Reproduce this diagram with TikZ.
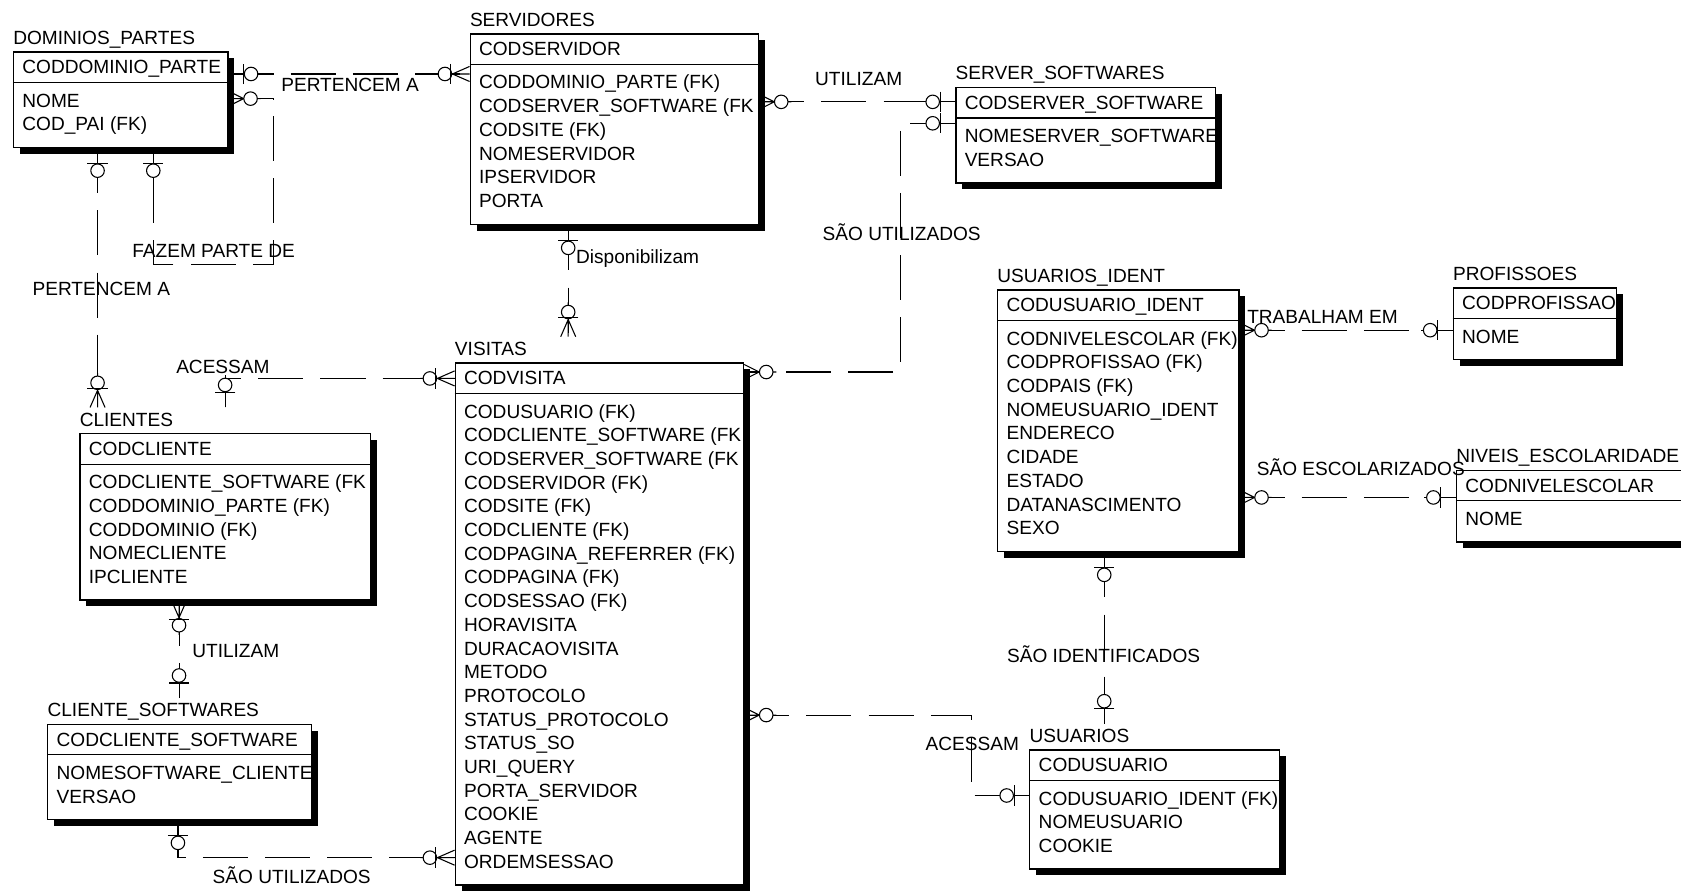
\documentclass[tikz,border=0pt]{standalone}
\usepackage{fontspec}
\setmainfont{Liberation Sans}
\tikzset{
  every node/.style={font=\fontsize{8.9}{11}\selectfont, inner sep=0pt, text=black},
  box/.style={draw, fill=white, anchor=north west, line width=0.6pt, inner sep=0pt},
  ttl/.style={anchor=base west, outer ysep=2.5pt},
  fld/.style={anchor=base west},
  lbl/.style={anchor=base west},
  sepl/.style={line width=0.6pt},
  shd/.style={fill=black},
  rel/.style={line width=0.5pt, dash pattern=on 21pt off 8pt},
  sym/.style={line width=0.5pt, solid},
}
% entity: id, x, y(top), width, height, title, key, attributes
\newcommand\entity[8]{%
  \node[box, minimum width=#4*0.5pt, minimum height=#5*0.5pt] (#1) at (#2,#3) {};
  \node[ttl] (#1-t) at (#2,#3-6.5) {#6};
  \node[fld] (#1-k) at (#2+8.5,#3+21) {#7};
  \draw[sepl] (#2,#3+29) -- (#2+#4,#3+29);
  \foreach \f [count=\i from 0] in {#8} \node[fld] (#1-a\i) at (#2+8.5,#3+52+22.1*\i) {\f};
  \fill[shd] (#2+#4,#3+6.5) rectangle (#2+#4+6.5,#3+#5+6.5);
  \fill[shd] (#2+6.5,#3+#5) rectangle (#2+#4+6.5,#3+#5+6.5);
}
\newcommand\symmany[2]{\begin{scope}[shift={#1},rotate=#2]
  \draw[sym] (0,7)--(14,0)--(0,-7) (0,0)--(30,0);
  \draw[sym,fill=white] (20.5,0) circle[radius=6.3];
\end{scope}}
\newcommand\symmanybar[2]{\begin{scope}[shift={#1},rotate=#2]
  \draw[sym] (0,7)--(16,0)--(0,-7) (0,0)--(32,0);
  \draw[sym,fill=white] (23,0) circle[radius=6.3];
  \draw[sym] (18,9.5)--(18,-9.5);
\end{scope}}
\newcommand\symone[2]{\begin{scope}[shift={#1},rotate=#2]
  \draw[sym] (0,0)--(30,0);
  \draw[sym] (14,9.5)--(14,-9.5);
  \draw[sym,fill=white] (21,0) circle[radius=6.3];
\end{scope}}
\begin{document}
\begin{tikzpicture}[x=0.5pt,y=-0.5pt]
\useasboundingbox (0,0) rectangle (1568,831);
\fill[white] (0,0) rectangle (1568,831);
\clip (0,0) rectangle (1568,831);

% entities
\entity{dom}{12}{48}{200}{89}{DOMINIOS\_PARTES}{CODDOMINIO\_PARTE}{NOME,COD\_PAI (FK)}
\entity{serv}{438}{31}{269}{178}{SERVIDORES}{CODSERVIDOR}{CODDOMINIO\_PARTE (FK),CODSERVER\_SOFTWARE (FK,CODSITE (FK),NOMESERVIDOR,IPSERVIDOR,PORTA}
\entity{ss}{891}{81}{242}{89}{SERVER\_SOFTWARES}{CODSERVER\_SOFTWARE}{NOMESERVER\_SOFTWARE,VERSAO}
\entity{vis}{424}{338}{269}{487}{VISITAS}{CODVISITA}{CODUSUARIO (FK),CODCLIENTE\_SOFTWARE (FK,CODSERVER\_SOFTWARE (FK,CODSERVIDOR (FK),CODSITE (FK),CODCLIENTE (FK),CODPAGINA\_REFERRER (FK),CODPAGINA (FK),CODSESSAO (FK),HORAVISITA,DURACAOVISITA,METODO,PROTOCOLO,STATUS\_PROTOCOLO,STATUS\_SO,URI\_QUERY,PORTA\_SERVIDOR,COOKIE,AGENTE,ORDEMSESSAO}
\entity{cli}{74}{404}{271}{155}{CLIENTES}{CODCLIENTE}{CODCLIENTE\_SOFTWARE (FK,CODDOMINIO\_PARTE (FK),CODDOMINIO (FK),NOMECLIENTE,IPCLIENTE}
\entity{cs}{44}{675}{246}{89}{CLIENTE\_SOFTWARES}{CODCLIENTE\_SOFTWARE}{NOMESOFTWARE\_CLIENTE,VERSAO}
\entity{ui}{930}{270}{225}{244}{USUARIOS\_IDENT}{CODUSUARIO\_IDENT}{CODNIVELESCOLAR (FK),CODPROFISSAO (FK),CODPAIS (FK),NOMEUSUARIO\_IDENT,ENDERECO,CIDADE,ESTADO,DATANASCIMENTO,SEXO}
\entity{prof}{1355}{268}{152}{67}{PROFISSOES}{CODPROFISSAO}{NOME}
\entity{niv}{1358}{438}{240}{67}{NIVEIS\_ESCOLARIDADE}{CODNIVELESCOLAR}{NOME}
\entity{usu}{960}{699}{233}{111}{USUARIOS}{CODUSUARIO}{CODUSUARIO\_IDENT (FK),NOMEUSUARIO,COOKIE}

% relationships
\draw[rel] (dom.east |- 0,69) -- (serv.west |- 0,69);
\symone{(dom.east |- 0,69)}{0}
\symmanybar{(serv.west |- 0,69)}{180}

\draw[rel] (dom.east |- 0,92) -| (255,247) -| (dom.south -| 143,0);
\symmany{(dom.east |- 0,92)}{0}
\symone{(dom.south -| 143,0)}{-90}

\draw[rel] (dom.south -| 91,0) -- (cli-t.north -| 91,0);
\symone{(dom.south -| 91,0)}{-90}
\symmanybar{(cli-t.north -| 91,0)}{90}

\draw[rel] (serv.south -| 530,0) -- (vis-t.north -| 530,0);
\symone{(serv.south -| 530,0)}{-90}
\symmanybar{(vis-t.north -| 530,0)}{90}

\draw[rel] (serv.east |- 0,95) -- (ss.west |- 0,95);
\symmany{(serv.east |- 0,95)}{0}
\symone{(ss.west |- 0,95)}{180}

\draw[rel] (ss.west |- 0,115) -| (840,347) -- (vis.east |- 0,347);
\symone{(ss.west |- 0,115)}{180}
\symmany{(vis.east |- 0,347)}{0}

\draw[rel] (cli-t.north -| 210,0) |- (vis.west |- 0,353);
\symone{(cli-t.north -| 210,0)}{90}
\symmanybar{(vis.west |- 0,353)}{180}

\draw[rel] (cli.south -| 167,0) -- (cs-t.north -| 167,0);
\symmanybar{(cli.south -| 167,0)}{-90}
\symone{(cs-t.north -| 167,0)}{90}

\draw[rel] (cs.south -| 166,0) |- (vis.west |- 0,800);
\symone{(cs.south -| 166,0)}{-90}
\symmanybar{(vis.west |- 0,800)}{180}

\draw[rel] (vis.east |- 0,667) -| (906,742) -- (usu.west |- 0,742);
\symmany{(vis.east |- 0,667)}{0}
\symone{(usu.west |- 0,742)}{180}

\draw[rel] (ui.south -| 1030,0) -- (usu-t.north -| 1030,0);
\symone{(ui.south -| 1030,0)}{-90}
\symone{(usu-t.north -| 1030,0)}{90}

\draw[rel] (ui.east |- 0,308) -- (prof.west |- 0,308);
\symmany{(ui.east |- 0,308)}{0}
\symone{(prof.west |- 0,308)}{180}

\draw[rel] (ui.east |- 0,464) -- (niv.west |- 0,464);
\symmany{(ui.east |- 0,464)}{0}
\symone{(niv.west |- 0,464)}{180}

% relationship labels
\node[lbl] (l1) at (262,85.4) {PERTENCEM A};
\node[lbl] (l2) at (123,240.4) {FAZEM PARTE DE};
\node[lbl] (l3) at (30,275.4) {PERTENCEM A};
\node[lbl] (l4) at (537,246) {Disponibilizam};
\node[lbl] (l5) at (760,79.4) {UTILIZAM};
\node[lbl] (l6) at (767,224.4) {SÃO UTILIZADOS};
\node[lbl] (l7) at (164,348.4) {ACESSAM};
\node[lbl] (l8) at (179,613.4) {UTILIZAM};
\node[lbl] (l9) at (198,824.4) {SÃO UTILIZADOS};
\node[lbl] (l10) at (863,700.4) {ACESSAM};
\node[lbl] (l11) at (939,618.4) {SÃO IDENTIFICADOS};
\node[lbl] (l12) at (1163,301.4) {TRABALHAM EM};
\node[lbl] (l13) at (1172,443.4) {SÃO ESCOLARIZADOS};
\end{tikzpicture}
\end{document}
